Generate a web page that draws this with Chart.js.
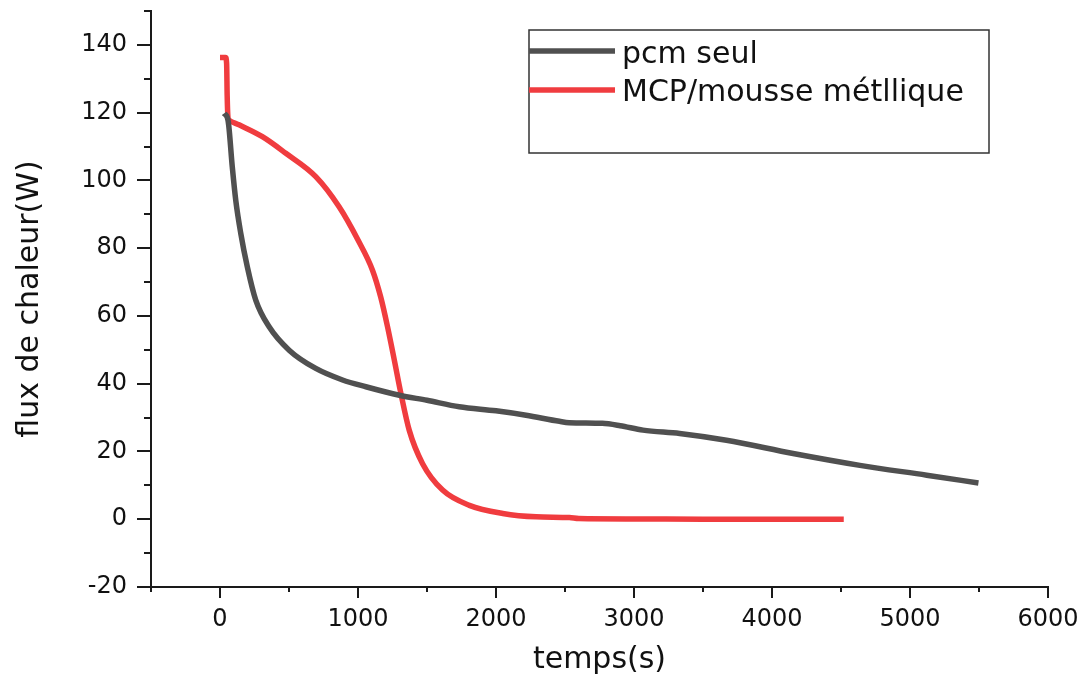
<!DOCTYPE html>
<html>
<head>
<meta charset="utf-8">
<script src="https://cdn.jsdelivr.net/npm/chart.js@4/dist/chart.umd.min.js"></script>
<style>
  html, body { margin: 0; padding: 0; background: #fff; }
  #wrap { width: 1086px; height: 681px; }
</style>
</head>
<body>
<div id="wrap"><canvas id="c" width="1086" height="681"></canvas></div>
<script>
// Heat flux during discharge: PCM alone vs. PCM in metal foam
const pcmLabel = 'pcm seul';
const pcmTime = [30, 58, 89, 114, 150, 198, 259, 356, 501, 694, 888, 1057, 1300, 1500, 1734, 2000, 2218, 2460, 2530, 2770, 2900, 3065, 3331, 3670, 4153, 4637, 5121, 5496];
const pcmFlux = [119.8, 117.8, 104.0, 94.2, 84.5, 74.5, 64.7, 56.8, 49.9, 44.5, 41.1, 39.1, 36.6, 35.1, 33.2, 32.0, 30.7, 28.9, 28.5, 28.3, 27.6, 26.3, 25.3, 23.3, 19.4, 15.9, 13.0, 10.7];

const mcpLabel = 'MCP/mousse métllique';
const mcpTime = [0, 40, 48, 52, 58, 65, 138, 307, 477, 694, 863, 1000, 1105, 1165, 1214, 1263, 1311, 1371, 1468, 1613, 1807, 2049, 2291, 2532, 2600, 3000, 3500, 4000, 4520];
const mcpFlux = [136.3, 136.3, 134.5, 125.0, 118.5, 117.8, 116.4, 112.9, 108.0, 101.1, 92.2, 82.4, 73.5, 65.5, 56.8, 47.0, 37.1, 26.3, 16.4, 8.6, 4.1, 1.7, 0.7, 0.5, 0.2, 0.1, 0.0, 0.0, 0.0];

// Axis ticks
const xMajor = [0, 1000, 2000, 3000, 4000, 5000, 6000];
const xMinor = [-500, 500, 1500, 2500, 3500, 4500, 5500];
const yMajor = [-20, 0, 20, 40, 60, 80, 100, 120, 140];
const yMinor = [-10, 10, 30, 50, 70, 90, 110, 130, 150];

const toPoints = (xs, ys) => xs.map((x, i) => ({ x: x, y: ys[i] }));

Chart.defaults.font.family = '"DejaVu Sans", "Liberation Sans", Arial, sans-serif';
Chart.defaults.color = '#111';

// Outward tick marks (major and minor) drawn from the scales
const tickMarks = {
  id: 'tickMarks',
  afterDraw(chart) {
    const ctx = chart.ctx;
    const xs = chart.scales.x, ys = chart.scales.y;
    const area = chart.chartArea;
    ctx.save();
    ctx.strokeStyle = '#1a1a1a';
    ctx.lineWidth = 2;
    ctx.lineCap = 'butt';
    const hx = (vals, len) => vals.forEach(v => {
      const p = Math.round(xs.getPixelForValue(v));
      ctx.beginPath(); ctx.moveTo(p, area.bottom); ctx.lineTo(p, area.bottom + len); ctx.stroke();
    });
    const vy = (vals, len) => vals.forEach(v => {
      const p = Math.round(ys.getPixelForValue(v));
      ctx.beginPath(); ctx.moveTo(area.left, p); ctx.lineTo(area.left - len, p); ctx.stroke();
    });
    hx(xMajor, 11); hx(xMinor, 5);
    vy(yMajor, 14); vy(yMinor, 7);
    ctx.restore();
  }
};

// Boxed legend placed inside the plot
const boxLegend = {
  id: 'boxLegend',
  afterDraw(chart, args, opts) {
    const ctx = chart.ctx;
    ctx.save();
    ctx.strokeStyle = '#333';
    ctx.lineWidth = 1.5;
    ctx.strokeRect(opts.left, opts.top, opts.width, opts.height);
    ctx.font = '30px "DejaVu Sans", "Liberation Sans", Arial, sans-serif';
    ctx.textBaseline = 'alphabetic';
    ctx.textAlign = 'left';
    chart.data.datasets.forEach((ds, i) => {
      const yl = opts.lineY[i];
      ctx.strokeStyle = ds.borderColor;
      ctx.lineWidth = ds.borderWidth;
      ctx.beginPath();
      ctx.moveTo(opts.left, yl);
      ctx.lineTo(opts.left + opts.sample, yl);
      ctx.stroke();
      ctx.fillStyle = '#111';
      ctx.fillText(ds.label, opts.left + opts.sample + 7, opts.textY[i]);
    });
    ctx.restore();
  }
};

new Chart(document.getElementById('c'), {
  type: 'line',
  data: {
    datasets: [
      {
        label: pcmLabel,
        data: toPoints(pcmTime, pcmFlux),
        borderColor: '#505050',
        borderWidth: 5.5,
        pointRadius: 0,
        cubicInterpolationMode: 'monotone',
        fill: false
      },
      {
        label: mcpLabel,
        data: toPoints(mcpTime, mcpFlux),
        borderColor: '#f03c3f',
        borderWidth: 5.5,
        pointRadius: 0,
        cubicInterpolationMode: 'monotone',
        fill: false
      }
    ]
  },
  options: {
    responsive: false,
    animation: false,
    layout: { padding: { top: 11, right: 38, left: 0, bottom: 0 } },
    plugins: {
      legend: { display: false },
      tooltip: { enabled: false },
      boxLegend: { left: 529, top: 30, width: 460, height: 123, sample: 86, lineY: [51, 90], textY: [63, 101] }
    },
    scales: {
      x: {
        type: 'linear',
        min: -500,
        max: 6000,
        afterBuildTicks: s => { s.ticks = xMajor.map(v => ({ value: v })); },
        afterFit: s => { s.height = 94; },
        grid: { display: true, drawOnChartArea: false, drawTicks: true, tickLength: 18, tickColor: 'rgba(0,0,0,0)' },
        border: { display: true, color: '#1a1a1a', width: 2 },
        ticks: { font: { size: 24 }, color: '#111', padding: 0, maxRotation: 0, autoSkip: false, callback: v => String(v) },
        title: { display: true, text: 'temps(s)', font: { size: 30 }, color: '#111', padding: { top: 0, bottom: 3 } }
      },
      y: {
        type: 'linear',
        min: -20,
        max: 150,
        afterBuildTicks: s => { s.ticks = yMajor.map(v => ({ value: v })); },
        afterFit: s => { s.width = 151; },
        grid: { display: true, drawOnChartArea: false, drawTicks: true, tickLength: 24, tickColor: 'rgba(0,0,0,0)' },
        border: { display: true, color: '#1a1a1a', width: 2 },
        ticks: { font: { size: 24, lineHeight: 0.9 }, color: '#111', padding: 0, autoSkip: false, callback: v => String(v) },
        title: { display: true, text: 'flux de chaleur(W)', font: { size: 30 }, color: '#111', padding: { top: 12, bottom: 0 } }
      }
    }
  },
  plugins: [tickMarks, boxLegend]
});
</script>
</body>
</html>
